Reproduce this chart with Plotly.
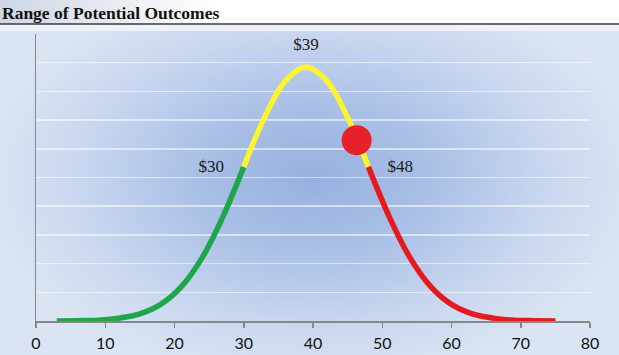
import base64
import plotly.graph_objects as go

# ---- data ----
green_x = [3, 6, 9, 12, 15, 18, 21, 24, 27, 30]
green_y = [0.00, 0.01, 0.03, 0.10, 0.25, 0.58, 1.20, 2.21, 3.64, 5.37]
yellow_x = [30, 33, 36, 39, 42, 45, 48]
yellow_y = [5.37, 7.09, 8.37, 8.85, 8.37, 7.09, 5.37]
red_x = [48, 51, 54, 57, 60, 63, 66, 69, 72, 75]
red_y = [5.37, 3.64, 2.21, 1.20, 0.58, 0.25, 0.10, 0.03, 0.01, 0.00]
marker_x = [46.3]
marker_y = [6.3]
label_text = ["$30", "$39", "$48"]
label_x = [25.3, 39.0, 52.6]
label_y = [5.34, 9.6, 5.34]
x_ticks = [0, 10, 20, 30, 40, 50, 60, 70, 80]
title_text = "Range of Potential Outcomes"

W, H = 619, 355
LINE_Y = 24   # px from top: title underline
BG_Y = 31     # px from top: start of the shaded chart area
ML, MR, MT, MB = 36, 29, 34, 34
PW, PH = W - ML - MR, H - MT - MB

def svg_uri(svg):
    return "data:image/svg+xml;base64," + base64.b64encode(svg.encode()).decode()

bg_h = H - BG_Y
cy = 178 - BG_Y
bg_svg = f'''<svg xmlns="http://www.w3.org/2000/svg" width="{W}" height="{bg_h}" viewBox="0 0 {W} {bg_h}" preserveAspectRatio="none">
<defs><radialGradient id="g" gradientUnits="userSpaceOnUse" cx="313" cy="{cy}" r="330"
 gradientTransform="translate(313 {cy}) scale(1 0.62) translate(-313 {-cy})">
<stop offset="0" stop-color="#96b1df"/>
<stop offset="0.35" stop-color="#a9bfe6"/>
<stop offset="0.7" stop-color="#c8d6ef"/>
<stop offset="1" stop-color="#dae4f2"/>
</radialGradient></defs>
<rect width="{W}" height="{bg_h}" fill="url(#g)"/></svg>'''

title_svg = f'''<svg xmlns="http://www.w3.org/2000/svg" width="{W}" height="{BG_Y}" viewBox="0 0 {W} {BG_Y}" preserveAspectRatio="none">
<defs><linearGradient id="t" x1="0" y1="0" x2="1" y2="0">
<stop offset="0" stop-color="#cdd6e4"/>
<stop offset="0.35" stop-color="#ffffff"/>
<stop offset="1" stop-color="#ffffff"/>
</linearGradient></defs>
<rect width="{W}" height="{LINE_Y}" fill="url(#t)"/>
<rect y="{LINE_Y}" width="{W}" height="{BG_Y - LINE_Y}" fill="#eef2f8"/></svg>'''

def px(xp):
    return (xp - ML) / PW

def py(yp):
    return 1 - (yp - MT) / PH

fig = go.Figure()
for xs, ys, col in [(green_x, green_y, "#1ea64b"),
                    (yellow_x, yellow_y, "#fbf431"),
                    (red_x, red_y, "#e5191e")]:
    fig.add_trace(go.Scatter(x=xs, y=ys, mode="lines",
                             line=dict(color=col, width=5.5, shape="spline", smoothing=1.0),
                             hoverinfo="skip", showlegend=False))
fig.add_trace(go.Scatter(x=marker_x, y=marker_y, mode="markers",
                         marker=dict(color="#e8202a", size=30, line=dict(width=0)),
                         hoverinfo="skip", showlegend=False))
fig.add_trace(go.Scatter(x=label_x, y=label_y, mode="text", text=label_text,
                         textfont=dict(family="Liberation Serif", size=17, color="#1a1a1a"),
                         hoverinfo="skip", showlegend=False))

fig.update_layout(
    width=W, height=H, autosize=False,
    margin=dict(l=ML, r=MR, t=MT, b=MB),
    paper_bgcolor="white", plot_bgcolor="rgba(0,0,0,0)",
    images=[
        dict(source=svg_uri(bg_svg), xref="paper", yref="paper",
             x=px(0), y=py(BG_Y), sizex=W / PW, sizey=bg_h / PH,
             xanchor="left", yanchor="top", sizing="stretch", layer="below"),
        dict(source=svg_uri(title_svg), xref="paper", yref="paper",
             x=px(0), y=py(0), sizex=W / PW, sizey=BG_Y / PH,
             xanchor="left", yanchor="top", sizing="stretch", layer="below"),
    ],
    shapes=[dict(type="line", xref="paper", yref="paper",
                 x0=px(0), x1=px(W), y0=py(LINE_Y), y1=py(LINE_Y),
                 line=dict(color="#3a3a3a", width=1.5), layer="above")],
    annotations=[dict(text=f"<b>{title_text}</b>", xref="paper", yref="paper",
                      x=px(0), y=py(13), xanchor="left", yanchor="middle",
                      showarrow=False,
                      font=dict(family="Liberation Serif", size=17.5, color="#111111"))],
    xaxis=dict(range=[0, 80], tickvals=x_ticks, ticktext=[str(v) for v in x_ticks],
               showgrid=False, zeroline=False, showline=True, linecolor="#878787", linewidth=1.5,
               ticks="outside", ticklen=5, tickcolor="#878787", tickwidth=1.5,
               ticklabelstandoff=2,
               tickfont=dict(family="Lato", size=16, color="#111111"), fixedrange=True,
               automargin=False),
    yaxis=dict(range=[0, 10], dtick=1, showticklabels=False, showgrid=True,
               gridcolor="rgba(255,255,255,0.55)", gridwidth=1.5, zeroline=False,
               showline=True, linecolor="#878787", linewidth=1.5, ticks="", fixedrange=True,
               automargin=False),
)

fig.write_html("out.html",
               config={"responsive": False, "displayModeBar": False, "staticPlot": True},
               post_script="document.body.style.margin='0';document.body.style.overflow='hidden';")
